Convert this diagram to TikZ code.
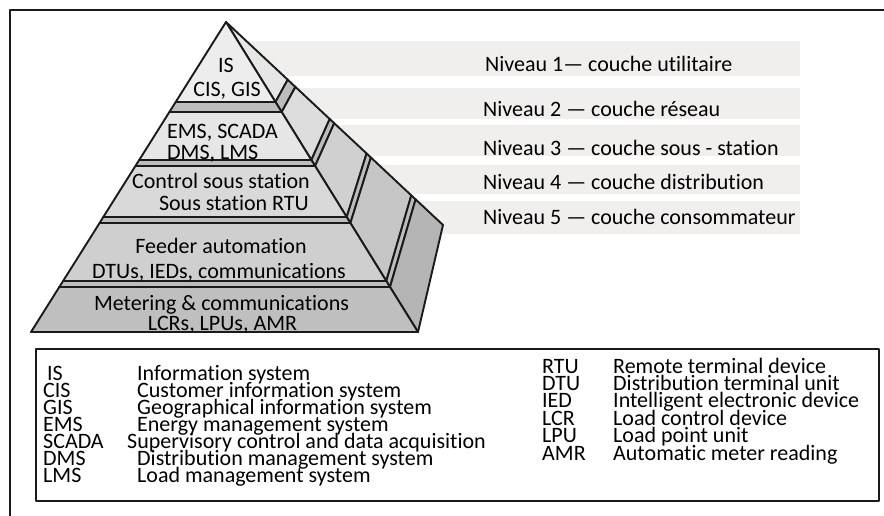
\documentclass[tikz,border=0pt]{standalone}
\usepackage{fontspec}
\setmainfont{Carlito}[Ligatures={NoCommon}]
\usetikzlibrary{calc}

\definecolor{ink}{HTML}{1A1A1A}
\definecolor{barfill}{HTML}{F0EFED}
\definecolor{lvA}{HTML}{EDEDED}
\definecolor{lvB}{HTML}{E6E6E6}
\definecolor{lvC}{HTML}{D9D9D9}
\definecolor{lvD}{HTML}{CFCFCF}
\definecolor{lvE}{HTML}{BFBFBF}
\definecolor{sepfill}{HTML}{BDBDBD}
\definecolor{sdA}{HTML}{E6E6E6}
\definecolor{sdB}{HTML}{DDDDDD}
\definecolor{sdC}{HTML}{D0D0D0}
\definecolor{sdD}{HTML}{C6C6C6}
\definecolor{sdE}{HTML}{B5B5B5}

\begin{document}
\begin{tikzpicture}[x=1pt,y=-1pt,line join=round,
  edge/.style={draw=ink,line width=1.9pt},
  txt/.style={font=\fontsize{22}{22}\selectfont,inner sep=0pt,anchor=base},
  lvl/.style={txt,anchor=base west},
  key/.style={txt,anchor=base west}]
\useasboundingbox (0,0) rectangle (884,515);

% outer frame (runs off the right and bottom edges)
\draw[ink,line width=2.4pt] (10,530) -- (10,10) -- (900,10);

% level bars behind the pyramid
\fill[barfill] (240,41) rectangle (800,76);
\fill[barfill] (240,88) rectangle (800,119);
\fill[barfill] (240,125) rectangle (800,156);
\fill[barfill] (240,165) rectangle (800,194);
\fill[barfill] (240,201) rectangle (800,234);

\node[lvl] (n1) at (485,71) {Niveau 1— couche utilitaire};
\node[lvl] (n2) at (483,116) {Niveau 2 — couche réseau};
\node[lvl] (n3) at (483,155) {Niveau 3 — couche sous - station};
\node[lvl] (n4) at (483,189) {Niveau 4 — couche distribution};
\node[lvl] (n5) at (483,224) {Niveau 5 — couche consommateur};

% pyramid corners
\coordinate (A) at (226,22);
\coordinate (C) at (443,225);
\coordinate (BL) at (31,332);
\coordinate (BR) at (418,332);
% front edge points at the band boundaries
\coordinate (l1) at (175.7,102); \coordinate (r1) at (275.5,102);
\coordinate (l2) at (169.4,112); \coordinate (r2) at (281.7,112);
\coordinate (l3) at (139.2,160); \coordinate (r3) at (311.4,160);
\coordinate (l4) at (135.4,166); \coordinate (r4) at (315.1,166);
\coordinate (l5) at (103.3,217); \coordinate (r5) at (346.7,217);
\coordinate (l6) at (99.6,223);  \coordinate (r6) at (350.4,223);
\coordinate (l7) at (63.1,281);  \coordinate (r7) at (386.3,281);
\coordinate (l8) at (59.3,287);  \coordinate (r8) at (390,287);
% back edge points of the side strips
\coordinate (b1) at (287.7,79.7); \coordinate (b2) at (295.4,86.9);
\coordinate (b3) at (329.7,119);  \coordinate (b4) at (334.2,123.2);
\coordinate (b5) at (366.6,153.5); \coordinate (b6) at (370.9,157.5);
\coordinate (b7) at (411.3,195.4); \coordinate (b8) at (415.6,199.4);

% side face
\filldraw[edge,fill=sdA] (A) -- (r1) -- (b1) -- cycle;
\filldraw[edge,fill=sepfill] (r1) -- (r2) -- (b2) -- (b1) -- cycle;
\filldraw[edge,fill=sdB] (r2) -- (r3) -- (b3) -- (b2) -- cycle;
\filldraw[edge,fill=sepfill] (r3) -- (r4) -- (b4) -- (b3) -- cycle;
\filldraw[edge,fill=sdC] (r4) -- (r5) -- (b5) -- (b4) -- cycle;
\filldraw[edge,fill=sepfill] (r5) -- (r6) -- (b6) -- (b5) -- cycle;
\filldraw[edge,fill=sdD] (r6) -- (r7) -- (b7) -- (b6) -- cycle;
\filldraw[edge,fill=sepfill] (r7) -- (r8) -- (b8) -- (b7) -- cycle;
\filldraw[edge,fill=sdE] (r8) -- (BR) -- (C) -- (b8) -- cycle;

% front face bands
\filldraw[edge,fill=lvA] (A) -- (r1) -- (l1) -- cycle;
\filldraw[edge,fill=sepfill] (l1) -- (r1) -- (r2) -- (l2) -- cycle;
\filldraw[edge,fill=lvB] (l2) -- (r2) -- (r3) -- (l3) -- cycle;
\filldraw[edge,fill=sepfill] (l3) -- (r3) -- (r4) -- (l4) -- cycle;
\filldraw[edge,fill=lvC] (l4) -- (r4) -- (r5) -- (l5) -- cycle;
\filldraw[edge,fill=sepfill] (l5) -- (r5) -- (r6) -- (l6) -- cycle;
\filldraw[edge,fill=lvD] (l6) -- (r6) -- (r7) -- (l7) -- cycle;
\filldraw[edge,fill=sepfill] (l7) -- (r7) -- (r8) -- (l8) -- cycle;
\filldraw[edge,fill=lvE] (l8) -- (r8) -- (BR) -- (BL) -- cycle;

% band texts
\node[txt] (t1) at (226,72) {IS};
\node[txt] (t2) at (227,96) {CIS, GIS};
\node[txt,anchor=base west] (t3) at (167,138) {EMS, SCADA};
\node[txt,anchor=base west] (t4) at (167,159) {DMS, LMS};
\node[txt] (t5) at (221,188) {Control sous station};
\node[txt,anchor=base east] (t6) at (309,210) {Sous station RTU};
\node[txt] (t7) at (221,253) {Feeder automation};
\node[txt] (t8) at (219,278) {DTUs, IEDs, communications};
\node[txt] (t9) at (221.5,310) {Metering \& communications};
\node[txt] (t10) at (222.5,330) {LCRs, LPUs, AMR};

% legend
\draw[ink,line width=1.6pt] (36,349) rectangle (879,501);
\node[key] (kIS) at (47,380) {IS};
\node[key] (dIS) at (137,380) {Information system};
\node[key] (kCIS) at (43,397) {CIS};
\node[key] (dCIS) at (137,397) {Customer information system};
\node[key] (kGIS) at (43,414) {GIS};
\node[key] (dGIS) at (137,414) {Geographical information system};
\node[key] (kEMS) at (43,431) {EMS};
\node[key] (dEMS) at (137,431) {Energy management system};
\node[key] (kSC) at (43,448) {SCADA};
\node[key] (dSC) at (127,448) {Supervisory control and data acquisition};
\node[key] (kDMS) at (43,465) {DMS};
\node[key] (dDMS) at (137,465) {Distribution management system};
\node[key] (kLMS) at (43,482) {LMS};
\node[key] (dLMS) at (137,482) {Load management system};

\node[key] (kRTU) at (542,373) {RTU};
\node[key] (dRTU) at (613,373) {Remote terminal device};
\node[key] (kDTU) at (542,390) {DTU};
\node[key] (dDTU) at (613,390) {Distribution terminal unit};
\node[key] (kIED) at (542,407) {IED};
\node[key] (dIED) at (613,407) {Intelligent electronic device};
\node[key] (kLCR) at (542,425) {LCR};
\node[key] (dLCR) at (613,425) {Load control device};
\node[key] (kLPU) at (542,442) {LPU};
\node[key] (dLPU) at (613,442) {Load point unit};
\node[key] (kAMR) at (542,460) {AMR};
\node[key] (dAMR) at (613,460) {Automatic meter reading};
\end{tikzpicture}
\end{document}
